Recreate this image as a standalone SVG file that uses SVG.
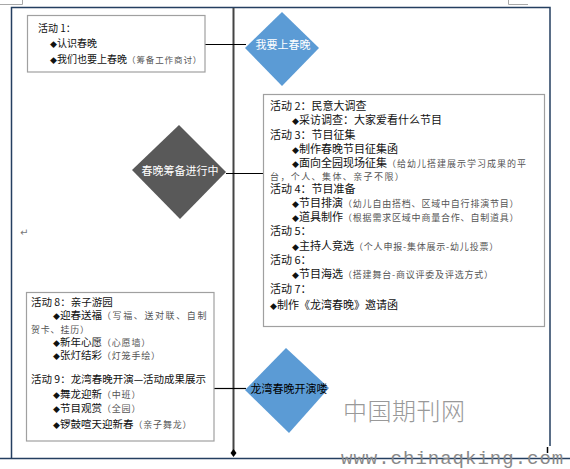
<svg xmlns="http://www.w3.org/2000/svg" width="570" height="469" viewBox="0 0 570 469">
<style>
.frame{fill:none;stroke:#243f60;stroke-width:1.5}
.box{fill:#fff;stroke:#a0a0a0;stroke-width:1.2}
.conn{stroke:#000;stroke-width:1.2;fill:none}
.t{font-family:"Noto Sans CJK SC","Noto Sans",sans-serif;font-size:11px;fill:#111}
.t1{font-size:10px}
.p{font-size:9px;fill:#555;letter-spacing:0.8px}
.b{font-size:7px}
.dt{font-family:"Noto Sans CJK SC","Noto Sans",sans-serif;font-size:11px;text-anchor:middle}
.wm{font-family:"Noto Sans CJK SC","Noto Sans",sans-serif;fill:#999}
</style>
<rect width="570" height="469" fill="#fff"/>
<g id="page-marks" stroke="#a8a8a8" stroke-width="1" fill="none">
<polyline points="0,4.5 22.5,4.5 22.5,0"/>
<polyline points="508.5,0 508.5,4.5 528,4.5"/>
</g>
<g id="frame">
<polyline class="frame" points="11.5,458 11.5,7.5 550,7.5 550,446"/>
<line class="frame" x1="0" y1="458.5" x2="570" y2="458.5"/>
<line x1="547.5" y1="447" x2="547.5" y2="453" stroke="#000" stroke-width="1.5"/>
</g>
<text x="20" y="236" font-family="DejaVu Sans,sans-serif" font-size="10" fill="#777">↵</text>
<g id="connectors">
<line x1="233.5" y1="8" x2="233.5" y2="452" stroke="#444" stroke-width="2"/>
<path d="M233.5,449 L236.5,453 L233.5,457 L230.5,453 Z" fill="#000"/>
<line class="conn" x1="205" y1="44.5" x2="246" y2="44.5"/>
<line class="conn" x1="226" y1="173.5" x2="263" y2="173.5"/>
<line class="conn" x1="214" y1="388.5" x2="246" y2="388.5"/>
</g>
<g id="box-activity1">
<rect class="box" x="27.5" y="15.5" width="177.5" height="56.5"/>
<text class="t t1" x="38" y="32">活动 1：</text>
<text class="t t1" x="50" y="47"><tspan class="b">◆</tspan>认识春晚</text>
<text class="t t1" x="50" y="63"><tspan class="b">◆</tspan>我们也要上春晚<tspan class="p" style="font-size:8.5px;letter-spacing:0.9px">（筹备工作商讨）</tspan></text>
</g>
<g id="diamond-woyao">
<polygon points="282,12 319,48 282,86 245,48" fill="#5b9bd5"/>
<text class="dt" x="283" y="49" fill="#fff">我要上春晚</text>
</g>
<g id="diamond-choubei">
<polygon points="179,125 226,172 180,219 132,170" fill="#595959"/>
<text class="dt" x="180" y="175" fill="#fff">春晚筹备进行中</text>
</g>
<g id="box-activity2-7">
<rect class="box" x="263.5" y="94.5" width="281" height="232"/>
<text class="t" x="270" y="110">活动 2：民意大调查</text>
<text class="t" x="292" y="124"><tspan class="b">◆</tspan>采访调查：大家爱看什么节目</text>
<text class="t" x="270" y="139">活动 3：节目征集</text>
<text class="t" x="292" y="153"><tspan class="b">◆</tspan>制作春晚节目征集函</text>
<text class="t" x="292" y="167"><tspan class="b">◆</tspan>面向全园现场征集<tspan class="p" style="letter-spacing:1px">（给幼儿搭建展示学习成果的平</tspan></text>
<text class="t p" x="270" y="180" style="letter-spacing:1.4px">台，个人、集体、亲子不限）</text>
<text class="t" x="270" y="193">活动 4：节目准备</text>
<text class="t" x="292" y="207"><tspan class="b">◆</tspan>节目排演<tspan class="p">（幼儿自由搭档、区域中自行排演节目）</tspan></text>
<text class="t" x="292" y="221"><tspan class="b">◆</tspan>道具制作<tspan class="p">（根据需求区域中商量合作、自制道具）</tspan></text>
<text class="t" x="270" y="235">活动 5：</text>
<text class="t" x="292" y="250"><tspan class="b">◆</tspan>主持人竞选<tspan class="p">（个人申报-集体展示-幼儿投票）</tspan></text>
<text class="t" x="270" y="264">活动 6：</text>
<text class="t" x="292" y="278"><tspan class="b">◆</tspan>节目海选<tspan class="p">（搭建舞台-商议评委及评选方式）</tspan></text>
<text class="t" x="270" y="293">活动 7：</text>
<text class="t" x="270" y="309"><tspan class="b">◆</tspan>制作《龙湾春晚》邀请函</text>
</g>
<g id="box-activity8-9">
<rect class="box" x="26.5" y="292.5" width="187.5" height="148.5"/>
<text class="t" x="31" y="306" style="font-size:10.5px">活动 8：亲子游园</text>
<text class="t" x="53" y="319" style="font-size:10.5px"><tspan class="b">◆</tspan>迎春送福<tspan class="p" style="letter-spacing:1.6px">（写福、送对联、自制</tspan></text>
<text class="t p" x="31" y="333">贺卡、挂历）</text>
<text class="t" x="53" y="346" style="font-size:10.5px"><tspan class="b">◆</tspan>新年心愿<tspan class="p">（心愿墙）</tspan></text>
<text class="t" x="53" y="359" style="font-size:10.5px"><tspan class="b">◆</tspan>张灯结彩<tspan class="p">（灯笼手绘）</tspan></text>
<text class="t" x="31" y="383" style="font-size:10.5px">活动 9：龙湾春晚开演—活动成果展示</text>
<text class="t" x="53" y="398" style="font-size:10.5px"><tspan class="b">◆</tspan>舞龙迎新<tspan class="p">（中班）</tspan></text>
<text class="t" x="53" y="412" style="font-size:10.5px"><tspan class="b">◆</tspan>节目观赏<tspan class="p">（全园）</tspan></text>
<text class="t" x="53" y="428" style="font-size:10.5px"><tspan class="b">◆</tspan>锣鼓喧天迎新春<tspan class="p">（亲子舞龙）</tspan></text>
</g>
<g id="diamond-kaiyan">
<polygon points="286,348 329,388 289,433 245,390" fill="#5b9bd5"/>
<text class="dt" x="289" y="393" fill="#000">龙湾春晚开演喽</text>
</g>
<g id="watermark">
<text class="wm" x="343" y="420" font-size="24" letter-spacing="0.5" font-weight="300">中国期刊网</text>
<text x="341" y="464" font-family="Liberation Mono,monospace" font-size="19" letter-spacing="1" fill="#888">www.chinaqking.com</text>
</g>
</svg>
